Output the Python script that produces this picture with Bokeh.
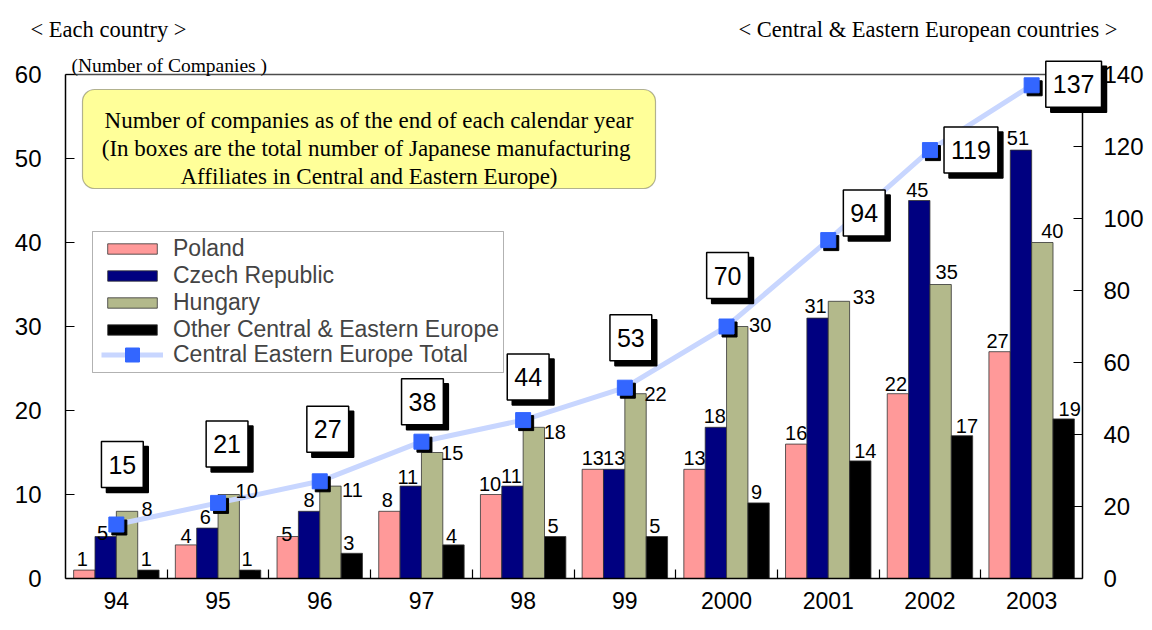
from bokeh.plotting import figure
from bokeh.models import Range1d, LinearAxis, FixedTicker, Label, BoxAnnotation, Legend, LegendItem
from bokeh.core.properties import value
from bokeh.embed import file_html
from bokeh.resources import INLINE

# ---------------- data ----------------
years = ["94", "95", "96", "97", "98", "99", "2000", "2001", "2002", "2003"]
poland = [1, 4, 5, 8, 10, 13, 13, 16, 22, 27]
czech = [5, 6, 8, 11, 11, 13, 18, 31, 45, 51]
hungary = [8, 10, 11, 15, 18, 22, 30, 33, 35, 40]
other = [1, 1, 3, 4, 5, 5, 9, 14, 17, 19]
total = [15, 21, 27, 38, 44, 53, 70, 94, 119, 137]
series_names = ["Poland", "Czech Republic", "Hungary", "Other Central & Eastern Europe"]
total_name = "Central Eastern Europe Total"
left_ticks = [0, 10, 20, 30, 40, 50, 60]
right_ticks = [0, 20, 40, 60, 80, 100, 120, 140]
left_title = "< Each country >"
right_title = "< Central & Eastern European countries >"
unit_text = "(Number of Companies )"
note_lines = ["Number of companies as of the end of each calendar year",
              "(In  boxes are the total number of Japanese manufacturing",
              "Affiliates in Central and Eastern Europe)"]

# ---------------- styles / label nudges (pixels) ----------------
colors = ["#ff9999", "#000080", "#b3b98b", "#000000"]
lab_dx = [[-2, 0, -1, -2, -1, 0, 0, 0, -2, -2],
          [-3, -2, 0, -3, -1, 0, -1, -2, -2, -3],
          [20, 18, 22, 20, 21, 20, 23, 25, 6, 10],
          [-2, -3, -3, -2, -2, -2, -2, 5, 5, 6]]
lab_gap = [[11, 9, 3, 11, 11, 11, 11, 11, 10, 11],
           [4, 11, 11, 9, 10, 11, 11, 12, 11, 12],
           [2, 4, -4, 0, -5, 0, 2, 4, 13, 12],
           [11, 11, 10, 9, 11, 11, 11, 10, 10, 10]]
box_dx = [6, 9, 8, 1, 5, 6, 1, 36, 41, 42]
box_up = [60, 59, 52, 40, 43, 50, 51, 27, 0, 1]

W, H = 1144, 614
X0, X1 = 65.0, 1082.0      # pixel position of the plot box (left/right axes)
Y0, Y1 = 578.0, 74.0       # pixel position of y=0 and y=60
NC = len(years)
PXC = (X1 - X0) / NC
PXL = (Y0 - Y1) / 60.0
PXR = (Y0 - Y1) / 140.0

def dx(X):   # canvas x -> data x
    return (X - X0) / PXC

def dy(Y):   # canvas y -> left data y
    return (Y0 - Y) / PXL

p = figure(width=W, height=H,
           x_range=Range1d(dx(0), dx(W)), y_range=Range1d(dy(H), dy(0)),
           output_backend="svg", toolbar_location=None,
           min_border_left=0, min_border_right=0, min_border_top=0, min_border_bottom=0)
p.extra_y_ranges = {"right": Range1d((Y0 - H) / PXR, Y0 / PXR)}
p.xgrid.visible = False
p.ygrid.visible = False
p.outline_line_color = None
p.background_fill_color = "white"
p.border_fill_color = "white"

centers = [i + 0.5 for i in range(NC)]

# x axis at y=0
xa = p.xaxis[0]
xa.fixed_location = 0
xa.bounds = (0, NC)
xa.ticker = FixedTicker(ticks=centers, minor_ticks=list(range(1, NC)))
xa.major_label_overrides = {c: y for c, y in zip(centers, years)}
xa.axis_line_color = "black"
xa.axis_line_width = 1.5
xa.minor_tick_in = 9
xa.minor_tick_out = 0
xa.minor_tick_line_color = "black"
xa.minor_tick_line_width = 1.2
xa.major_tick_in = 0
xa.major_tick_out = 0
xa.major_label_text_font = "Liberation Sans"
xa.major_label_text_font_size = "23px"
xa.major_label_text_color = "black"
xa.major_label_standoff = 13

ya = p.yaxis[0]
ya.fixed_location = 0
ya.bounds = (0, 60)
ya.ticker = FixedTicker(ticks=left_ticks)
ya.axis_line_color = "black"
ya.axis_line_width = 1.5
ya.major_tick_in = 9
ya.major_tick_out = 0
ya.minor_tick_line_color = None
ya.major_tick_line_width = 1.2
ya.major_label_text_font = "Liberation Sans"
ya.major_label_text_font_size = "24px"
ya.major_label_text_color = "black"
ya.major_label_standoff = 24

ra = LinearAxis(y_range_name="right", ticker=FixedTicker(ticks=right_ticks),
                fixed_location=NC, bounds=(0, 140))
ra.axis_line_color = "black"
ra.axis_line_width = 1.5
ra.major_tick_in = 9
ra.major_tick_out = 0
ra.minor_tick_line_color = None
ra.major_tick_line_width = 1.2
ra.major_label_text_font = "Liberation Sans"
ra.major_label_text_font_size = "24px"
ra.major_label_text_color = "black"
ra.major_label_standoff = 21
p.add_layout(ra, "right")

# top border of the plot box
ta = LinearAxis(ticker=FixedTicker(ticks=[]), fixed_location=60, bounds=(0, NC))
ta.axis_line_color = "#4d4d4d"
ta.axis_line_width = 1.5
ta.major_tick_line_color = None
ta.minor_tick_line_color = None
p.add_layout(ta, "above")

# ---------------- bars ----------------
BW = 0.21
series = [poland, czech, hungary, other]
bar_renderers = []
for k, vals in enumerate(series):
    off = (k - 1.5) * BW
    xs = [c + off for c in centers]
    r = p.vbar(x=xs, top=vals, width=BW, bottom=0, fill_color=colors[k],
               line_color="#333333", line_width=0.8)
    bar_renderers.append(r)

# ---------------- total line ----------------
line_r = p.line(centers, total, y_range_name="right", line_color="#c8d6ff", line_width=5)
p.scatter([c + 3 / PXC for c in centers], [t - 3 / PXR for t in total], y_range_name="right",
          marker="square", size=15, fill_color="black", line_color="black")
mark_r = p.scatter(centers, total, y_range_name="right", marker="square", size=15,
                   fill_color="#3366ff", line_color="#3366ff")

# ---------------- bar value labels ----------------
for k, vals in enumerate(series):
    off = (k - 1.5) * BW
    xs = [centers[i] + off + lab_dx[k][i] / PXC for i in range(NC)]
    ys = [vals[i] + lab_gap[k][i] / PXL for i in range(NC)]
    p.text(x=xs, y=ys, text=[str(v) for v in vals], text_font=value("Liberation Sans"),
           text_font_size="20px", text_align="center", text_baseline="alphabetic",
           text_color="black")

# ---------------- legend (frame + two legends for glyph sizes) ----------------
p.add_layout(BoxAnnotation(left=dx(92), right=dx(503), top=dy(231), bottom=dy(372),
                           fill_color="white", fill_alpha=1, line_color="black",
                           line_width=1))
common = dict(label_text_font="Liberation Sans", label_text_font_size="23px",
              glyph_width=62, label_standoff=10, padding=0, spacing=0, margin=0,
              border_line_color=None, background_fill_alpha=0)
legend_a = Legend(items=[LegendItem(label=series_names[k], renderers=[bar_renderers[k]])
                         for k in range(4)],
                  location=(101, H - 343), glyph_height=13, label_height=27, **common)
legend_b = Legend(items=[LegendItem(label=total_name, renderers=[line_r, mark_r])],
                  location=(101, H - 372), glyph_height=35, label_height=27, **common)
p.add_layout(legend_a)
p.add_layout(legend_b)

# ---------------- note box ----------------
p.add_layout(BoxAnnotation(left=dx(82), right=dx(655), top=dy(89), bottom=dy(188),
                           fill_color="#ffff99", fill_alpha=1, line_color="black",
                           line_width=1.2, border_radius=12))
for txt, base in zip(note_lines, [120, 148, 176]):
    p.add_layout(Label(x=dx(368.5), y=dy(base), text=txt, text_font="Liberation Serif",
                       text_font_size="23px", text_align="center", text_baseline="alphabetic",
                       text_color="black"))

# ---------------- total boxes ----------------
pad = dict(left=7, right=7, top=14, bottom=14)
for fill, sh in (("black", 5), ("white", 0)):
    for i, t in enumerate(total):
        bx = centers[i] + (box_dx[i] + sh) / PXC
        by = t + (box_up[i] - sh) / PXR
        p.add_layout(Label(x=bx, y=by, y_range_name="right", text=str(t),
                           text_font="Liberation Sans", text_font_size="25px",
                           text_align="center", text_baseline="middle", text_color="black",
                           background_fill_color=fill, border_line_color="black",
                           border_line_width=1.5, padding=pad))

# ---------------- titles ----------------
p.add_layout(Label(x=dx(30), y=dy(29), text=left_title, text_font="Liberation Serif",
                   text_font_size="22.5px", text_align="left", text_baseline="alphabetic",
                   text_color="black"))
p.add_layout(Label(x=dx(1117), y=dy(29), text=right_title, text_font="Liberation Serif",
                   text_font_size="22.5px", text_align="right", text_baseline="alphabetic",
                   text_color="black"))
p.add_layout(Label(x=dx(71), y=dy(65), text=unit_text, text_font="Liberation Serif",
                   text_font_size="19.5px", text_align="left", text_baseline="alphabetic",
                   text_color="black"))

open("out.html", "w").write(file_html(p, INLINE))
